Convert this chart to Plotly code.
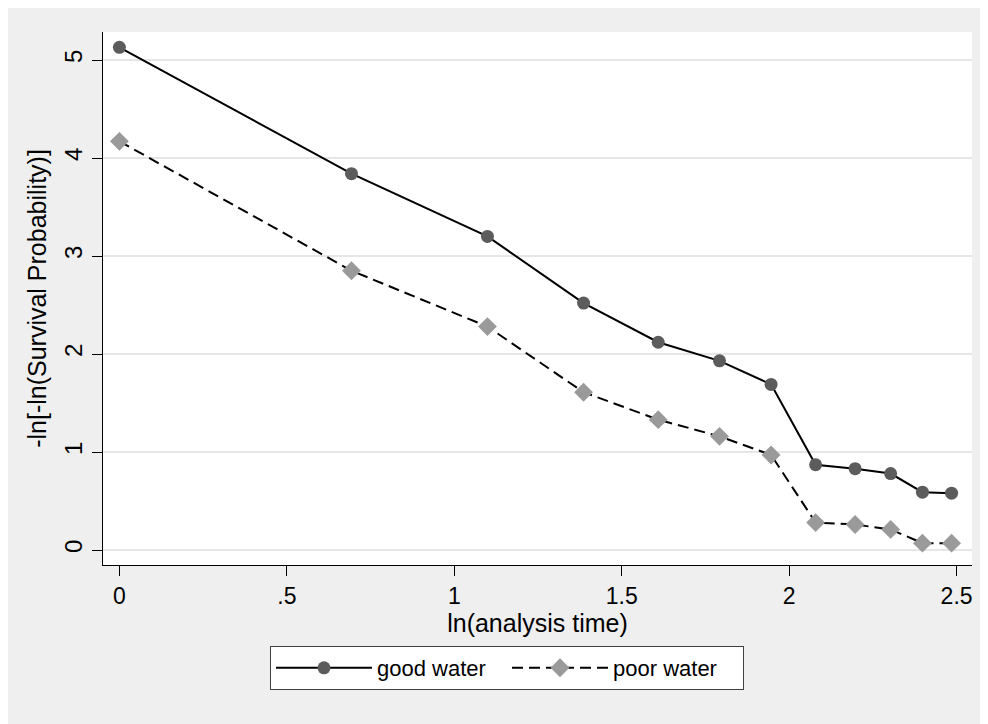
import plotly.graph_objects as go

# Data
ln_time = [0.0, 0.693, 1.099, 1.386, 1.609, 1.792, 1.946, 2.079, 2.197, 2.303, 2.398, 2.485]
good_water = [5.13, 3.84, 3.20, 2.52, 2.12, 1.93, 1.69, 0.87, 0.83, 0.78, 0.59, 0.58]
poor_water = [4.17, 2.85, 2.28, 1.61, 1.33, 1.16, 0.97, 0.28, 0.26, 0.21, 0.07, 0.07]
x_ticks = [0, 0.5, 1, 1.5, 2, 2.5]
x_ticktext = ["0", ".5", "1", "1.5", "2", "2.5"]
y_ticks = [0, 1, 2, 3, 4, 5]

# page body has an 8px margin, so the figure is placed at (8, 8)
OFF = 8
W, H = 988 - OFF, 724 - OFF
ML, MR, MT, MB = 103 - OFF, 16, 32 - OFF, 159
FONT = "Liberation Sans, Arial, sans-serif"

fig = go.Figure()
fig.add_trace(go.Scatter(
    x=ln_time, y=good_water, name="good water", mode="lines+markers",
    line=dict(color="black", width=2, dash="solid"),
    marker=dict(symbol="circle", size=13, color="#5c5c5c", line=dict(width=0)),
))
fig.add_trace(go.Scatter(
    x=ln_time, y=poor_water, name="poor water", mode="lines+markers",
    line=dict(color="black", width=2, dash="11px,6px"),
    marker=dict(symbol="diamond", size=14.5, color="#9a9a9a", line=dict(width=0)),
))

fig.update_layout(
    width=W, height=H,
    margin=dict(l=ML, r=MR, t=MT, b=MB, autoexpand=False),
    paper_bgcolor="#efefef",
    plot_bgcolor="white",
    font=dict(family=FONT, color="black", size=22),
    showlegend=True,
    legend=dict(
        orientation="h",
        xref="container", yref="container",
        x=(507 - OFF) / W, xanchor="center",
        y=(724 - 646) / H, yanchor="top",
        bgcolor="white", bordercolor="#404040", borderwidth=1,
        font=dict(family=FONT, size=22, color="black"),
        itemwidth=96,
        entrywidth=125,
        traceorder="normal",
    ),
    xaxis=dict(
        range=[-0.049, 2.546],
        tickmode="array", tickvals=x_ticks, ticktext=x_ticktext,
        ticks="outside", ticklen=10, tickwidth=1, tickcolor="black",
        showline=True, linecolor="black", linewidth=1.3,
        showgrid=False, zeroline=False,
        tickfont=dict(family=FONT, size=23, color="black"),
        title=dict(text="ln(analysis time)", font=dict(family=FONT, size=25, color="black"), standoff=3),
    ),
    yaxis=dict(
        range=[-0.153, 5.286],
        tickmode="array", tickvals=y_ticks,
        ticks="outside", ticklen=10, tickwidth=1, tickcolor="black",
        tickangle=-90,
        showline=True, linecolor="black", linewidth=1.3,
        showgrid=True, gridcolor="#e6e6e6", gridwidth=2,
        zeroline=False,
        tickfont=dict(family=FONT, size=24, color="black"),
        title=dict(text="-ln[-ln(Survival Probability)]", font=dict(family=FONT, size=25, color="black"), standoff=6),
    ),
)

fig.write_html("out.html")
